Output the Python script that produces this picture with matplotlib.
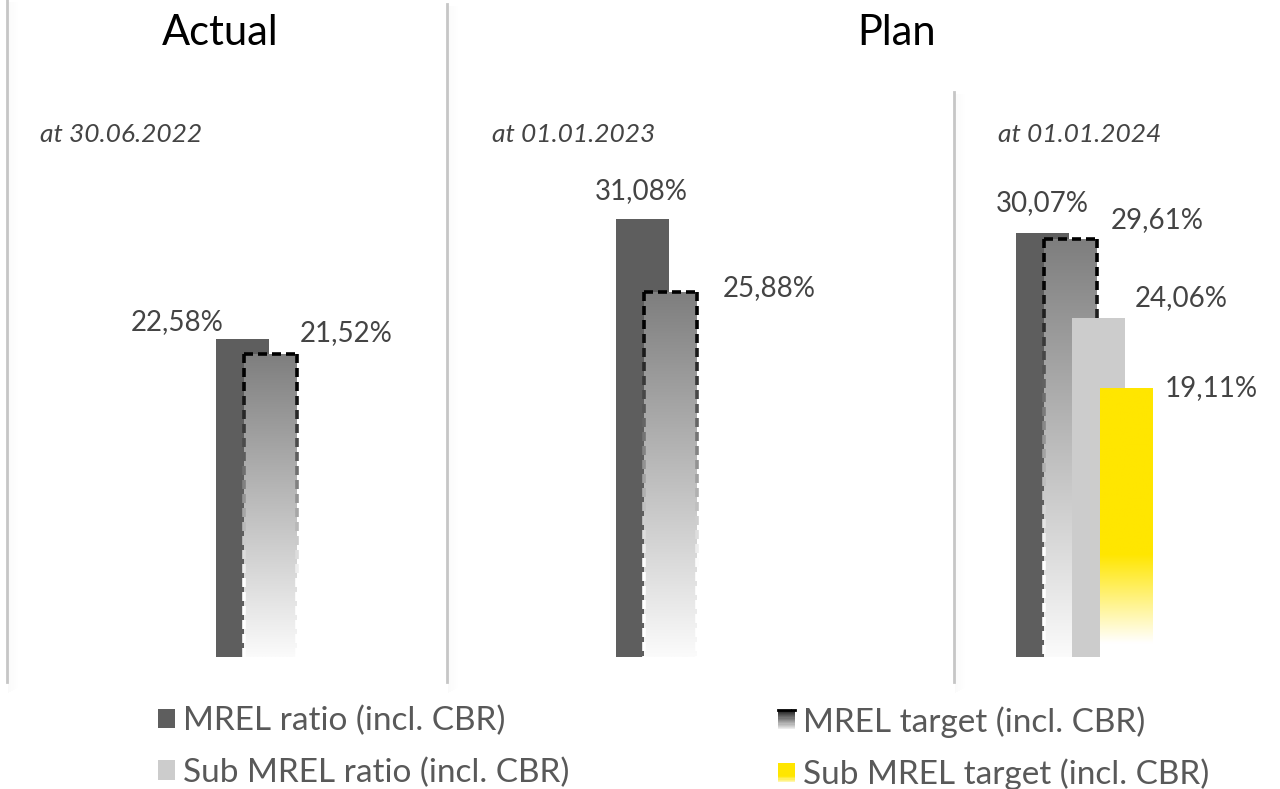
import numpy as np
import matplotlib
matplotlib.use("Agg")
import matplotlib.pyplot as plt
from matplotlib.patches import Rectangle, Patch
from matplotlib.colors import to_rgb
from matplotlib.legend_handler import HandlerBase
from matplotlib.lines import Line2D

plt.rcParams['font.family'] = ['Lato', 'DejaVu Sans']

# ---- data -------------------------------------------------------------
categories = ["at 30.06.2022", "at 01.01.2023", "at 01.01.2024"]
section_titles = ["Actual", "Plan"]
series_names = ["MREL ratio (incl. CBR)", "MREL target (incl. CBR)",
                "Sub MREL ratio (incl. CBR)", "Sub MREL target (incl. CBR)"]
mrel_ratio = [22.58, 31.08, 30.07]
mrel_target = [21.52, 25.88, 29.61]
sub_mrel_ratio = [np.nan, np.nan, 24.06]
sub_mrel_target = [np.nan, np.nan, 19.11]

# ---- canvas -----------------------------------------------------------
W, H = 1280, 789
fig = plt.figure(figsize=(W / 100, H / 100), dpi=100)
fig.patch.set_facecolor("white")

base_px = 657          # baseline of the bars (pixels from top)
px_per_pct = 14.1      # vertical scale
cat_px0, cat_step = 284, 400

ax = fig.add_axes([0, (H - base_px) / H, 1, base_px / H])
ax.axis("off")
xlim = (-cat_px0 / cat_step, (W - cat_px0) / cat_step)
ylim = (0, base_px / px_per_pct)

bar_w = 53 / cat_step
slot = 28 / cat_step
offsets = (np.arange(4) - 1.5) * slot
x = np.arange(len(categories))

DARK = "#5e5e5e"
LIGHT = "#cccccc"
YELLOW = "#ffe600"
TXT = "#444444"


def fmt(v):
    return f"{v:.2f}%".replace(".", ",")


def vertical_gradient(patch, stops, zorder):
    """Fill a bar with a top-to-bottom colour gradient (stops: frac-from-top, colour)."""
    x0, y0 = patch.get_x(), patch.get_y()
    w, h = patch.get_width(), patch.get_height()
    n = 256
    t = np.linspace(1, 0, n)
    fr = [s[0] for s in stops]
    cols = np.array([to_rgb(s[1]) for s in stops])
    rgb = np.stack([np.interp(t, fr, cols[:, k]) for k in range(3)], axis=-1)
    im = ax.imshow(rgb[:, None, :], extent=(x0, x0 + w, y0, y0 + h), origin="lower",
                   aspect="auto", zorder=zorder, interpolation="bilinear")
    im.set_clip_path(patch)


def dashed_edge(patch, zorder):
    """Dashed outline that fades from black at the top to white at the base."""
    x0, w, top = patch.get_x(), patch.get_width(), patch.get_height()
    dash_y, gap_y = 9 / px_per_pct, 5 / px_per_pct
    dash_x, gap_x = 9 / cat_step, 5 / cat_step
    lw = 2.6
    xs = x0
    while xs < x0 + w:
        xe = min(xs + dash_x, x0 + w)
        ax.plot([xs, xe], [top, top], color="black", lw=lw,
                solid_capstyle="butt", zorder=zorder)
        xs += dash_x + gap_x
    for xe in (x0, x0 + w):
        ys = top
        while ys > 0:
            ye = max(ys - dash_y, 0)
            f = (top - (ys + ye) / 2) / top
            g = float(np.clip((f - 0.1) / 0.65, 0, 1))
            ax.plot([xe, xe], [ys, ye], color=(g, g, g), lw=lw,
                    solid_capstyle="butt", zorder=zorder)
            ys -= dash_y + gap_y


target_stops = [(0.0, "#7e7e7e"), (1.0, "#fbfbfb")]
yellow_stops = [(0.0, YELLOW), (0.62, YELLOW), (0.95, "#ffffff"), (1.0, "#ffffff")]

# MREL ratio
b0 = ax.bar(x + offsets[0], mrel_ratio, bar_w, color=DARK, zorder=2)
# MREL target (gradient with dashed outline)
b1 = ax.bar(x + offsets[1], mrel_target, bar_w, facecolor="none", edgecolor="none", zorder=3)
for p in b1:
    vertical_gradient(p, target_stops, 3)
    dashed_edge(p, 3.5)
# Sub MREL ratio
b2 = ax.bar(x + offsets[2], sub_mrel_ratio, bar_w, color=LIGHT, zorder=4)
# Sub MREL target (yellow fading to white)
b3 = ax.bar(x + offsets[3], sub_mrel_target, bar_w, facecolor="none", edgecolor="none", zorder=5)
for p in b3:
    if np.isfinite(p.get_height()):
        vertical_gradient(p, yellow_stops, 5)

# value labels (offsets in pixels from the top-centre of each bar)
label_offsets = {
    0: [(-65, 17), (-1, 28), (0, 30)],
    1: [(76, 21), (99, 4), (87, 19)],
    2: [None, None, (83, 20)],
    3: [None, None, (85, 0)],
}
series_vals = [mrel_ratio, mrel_target, sub_mrel_ratio, sub_mrel_target]
for s, vals in enumerate(series_vals):
    for i, v in enumerate(vals):
        if not np.isfinite(v):
            continue
        dx, dy = label_offsets[s][i]
        ax.annotate(fmt(v), xy=(x[i] + offsets[s], v), xytext=(dx, dy),
                    textcoords="offset pixels", ha="center", va="center",
                    fontsize=20, color=TXT, zorder=10)

ax.set_xlim(*xlim)
ax.set_ylim(*ylim)


def fx(px):
    return px / W


def fy(py):
    return 1 - py / H


# section titles and dates
fig.text(fx(220), fy(33), section_titles[0], ha="center", va="center", fontsize=30, color="black")
fig.text(fx(897), fy(33), section_titles[1], ha="center", va="center", fontsize=30, color="black")
for xp, lab in zip([40, 492, 998], categories):
    fig.text(fx(xp), fy(135), lab, ha="left", va="center", fontsize=19,
             style="italic", color=TXT)

# vertical dividers with a soft shadow to the right
for xp, y_top, y_bot in [(7, 0, 682), (447, 4, 682), (954, 92, 682)]:
    for k in range(1, 12):
        fig.add_artist(Line2D([fx(xp + k), fx(xp + k)], [fy(y_top + 2), fy(y_bot + 10 - k * 0.5)],
                              color="#000000", alpha=0.018 * (12 - k) / 11, lw=0.75))
    fig.add_artist(Line2D([fx(xp), fx(xp)], [fy(y_top), fy(y_bot)], color="#c6c6c6", lw=2.0))


# legend
class GradientHandler(HandlerBase):
    def __init__(self, stops, top_dash=False):
        super().__init__()
        self.stops = stops
        self.top_dash = top_dash

    def create_artists(self, legend, orig_handle, xdescent, ydescent, width, height, fontsize, trans):
        arts = []
        n = 16
        fr = [s[0] for s in self.stops]
        cols = np.array([to_rgb(s[1]) for s in self.stops])
        for i in range(n):
            f = (i + 0.5) / n
            c = [np.interp(f, fr, cols[:, k]) for k in range(3)]
            y1 = -ydescent + height * (1 - i / n)
            r = Rectangle((-xdescent, y1 - height / n), width, height / n * 1.05,
                          facecolor=c, edgecolor="none", transform=trans)
            arts.append(r)
        if self.top_dash:
            arts.append(Line2D([-xdescent, -xdescent + width * 0.7], [-ydescent + height] * 2,
                               color="black", lw=2, transform=trans))
            arts.append(Line2D([-xdescent + width * 0.85, -xdescent + width], [-ydescent + height] * 2,
                               color="black", lw=2, transform=trans))
        return arts


h_ratio = Patch(facecolor=DARK)
h_target = Patch(facecolor="#888888")
h_sub = Patch(facecolor=LIGHT)
h_subt = Patch(facecolor=YELLOW)
handler_map = {
    h_target: GradientHandler([(0, "#202020"), (1, "#f2f2f2")], top_dash=True),
    h_subt: GradientHandler([(0, YELLOW), (0.7, YELLOW), (1, "#fff8c0")]),
}

fs = 24
fs_px = fs * 100 / 72
common = dict(loc="upper left", frameon=False, fontsize=fs, labelcolor="#595959",
              borderpad=0, borderaxespad=0, handlelength=17 / fs_px, handleheight=17 / fs_px,
              handletextpad=8 / fs_px, labelspacing=0.63, handler_map=handler_map)
leg1 = fig.legend([h_ratio, h_sub], [series_names[0], series_names[2]],
                  bbox_to_anchor=(fx(158), fy(706)), **common)
leg2 = fig.legend([h_target, h_subt], [series_names[1], series_names[3]],
                  bbox_to_anchor=(fx(778), fy(706)), **common)

fig.savefig("out.png", dpi=100, facecolor="white")
